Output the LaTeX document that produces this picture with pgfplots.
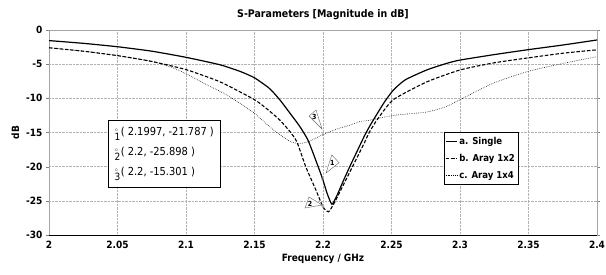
\documentclass[border=0pt]{standalone}
\usepackage{fontspec}
\setmainfont{DejaVu Sans Condensed}
\usepackage{pgfplots}
\pgfplotsset{compat=1.18}
\begin{document}
\begin{tikzpicture}
\useasboundingbox (-49pt,-40pt) rectangle (557pt,235pt);
\begin{axis}[
  at={(0,0)}, anchor=south west,
  width=548pt, height=205pt, scale only axis,
  xmin=2, xmax=2.4, ymin=-30, ymax=0,
  xtick={2,2.05,2.1,2.15,2.2,2.25,2.3,2.35,2.4},
  xticklabels={2,2.05,2.1,2.15,2.2,2.25,2.3,2.35,2.4},
  ytick={-30,-25,-20,-15,-10,-5,0},
  yticklabels={-30,-25,-20,-15,-10,-5,0},
  /pgf/number format/assume math mode=true,
  tick label style={font=\bfseries\fontsize{10}{12}\selectfont},
  x tick style={draw=none},
  y tick style={gray},
  tick align=outside, major tick length=3pt,
  grid=major,
  major grid style={densely dotted, gray!60},
  axis line style={gray!70},
  title={S-Parameters [Magnitude in dB]},
  title style={font=\bfseries\fontsize{10.5}{12}\selectfont, yshift=1pt},
  xlabel={Frequency / GHz},
  ylabel={dB},
  label style={font=\bfseries\fontsize{10}{12}\selectfont},
  xlabel style={yshift=2pt},
  legend style={at={(0.856,0.502)}, anchor=north east, draw=black,
    font=\bfseries\fontsize{9.5}{11}\selectfont, row sep=4.5pt,
    inner xsep=1pt, inner ysep=2.5pt},
  legend cell align=left,
  legend image code/.code={\draw[#1] (0pt,0pt) -- (11pt,0pt);},
  after end axis/.code={\draw[black, line width=0.9pt] (rel axis cs:0,0) -- (rel axis cs:1,0);},
]
\addplot[black, line width=1.2pt, smooth, tension=0.35] coordinates {
(2.000,-1.55) (2.025,-1.95) (2.050,-2.45) (2.075,-3.1) (2.100,-4.0)
(2.125,-5.1) (2.140,-6.1) (2.150,-7.0) (2.160,-8.4) (2.165,-9.4) (2.170,-10.6) (2.176,-12.2)
(2.183,-14.1) (2.189,-16.1) (2.195,-19.2) (2.1997,-21.787) (2.203,-23.9)
(2.2065,-25.5) (2.210,-24.3) (2.215,-22.0) (2.220,-19.8) (2.225,-17.7)
(2.230,-15.6) (2.234,-14.1) (2.240,-12.1) (2.245,-10.5) (2.2513,-8.8)
(2.260,-7.3) (2.2757,-5.85) (2.290,-4.9) (2.300,-4.4) (2.325,-3.6)
(2.349,-2.9) (2.375,-2.2) (2.400,-1.46)
};
\addlegendentry{a. Single}
\addplot[black, line width=1.1pt, dash pattern=on 3.5pt off 1.8pt, smooth, tension=0.35] coordinates {
(2.000,-2.6) (2.025,-3.1) (2.050,-3.75) (2.075,-4.6) (2.100,-5.8)
(2.125,-7.6) (2.150,-10.2) (2.160,-11.7) (2.1686,-13.2) (2.176,-14.9)
(2.181,-16.4) (2.1874,-20.0) (2.195,-23.5) (2.200,-25.898) (2.204,-26.6)
(2.208,-25.4) (2.215,-22.6) (2.220,-20.6) (2.225,-18.6) (2.230,-16.6)
(2.234,-14.9) (2.240,-13.0) (2.2513,-10.2) (2.2757,-7.6) (2.300,-5.85)
(2.325,-4.8) (2.349,-4.1) (2.375,-3.4) (2.400,-2.9)
};
\addlegendentry{b. Aray 1x2}
\addplot[black, line width=0.6pt, dash pattern=on 0.6pt off 1.2pt, smooth, tension=0.4] coordinates {
(2.000,-2.6) (2.025,-3.1) (2.050,-3.75) (2.075,-4.6) (2.090,-5.5)
(2.100,-6.4) (2.115,-8.0) (2.127,-9.2) (2.140,-10.8) (2.150,-12.2)
(2.1637,-14.6) (2.176,-16.3) (2.183,-16.6) (2.190,-16.3) (2.195,-15.8)
(2.200,-15.301) (2.210,-14.5) (2.220,-13.9) (2.227,-13.4) (2.234,-13.2)
(2.2513,-12.5) (2.2757,-12.0) (2.290,-11.2) (2.300,-10.2) (2.324,-7.8)
(2.349,-6.1) (2.375,-4.9) (2.400,-3.9)
};
\addlegendentry{c. Aray 1x4}
\addplot[only marks, mark=o, mark size=1.2pt, gray!80, forget plot] coordinates {
(2.1997,-21.787) (2.2,-25.898) (2.2,-15.301)
};
% marker flags
\draw[gray!80!black, fill=white, line width=0.4pt] (axis cs:2.1898,-12.59) -- (axis cs:2.1949,-11.71) -- (axis cs:2.1993,-14.49) -- cycle;
\node[font=\bfseries\fontsize{7}{8}\selectfont, inner sep=0pt] at (axis cs:2.1936,-12.75) {3};
\draw[gray!80!black, fill=white, line width=0.4pt] (axis cs:2.2022,-20.93) -- (axis cs:2.2064,-18.29) -- (axis cs:2.2117,-19.42) -- cycle;
\node[font=\bfseries\fontsize{7}{8}\selectfont, inner sep=0pt] at (axis cs:2.2068,-19.4) {1};
\draw[gray!80!black, fill=white, line width=0.4pt] (axis cs:2.1869,-26.05) -- (axis cs:2.1898,-24.44) -- (axis cs:2.1993,-25.61) -- cycle;
\node[font=\bfseries\fontsize{7}{8}\selectfont, inner sep=0pt] at (axis cs:2.1905,-25.4) {2};
% marker value box
\node[draw=black, fill=white, anchor=north west, inner xsep=2pt, inner ysep=2pt,
  font=\fontsize{11}{20}\selectfont, align=left, minimum width=112pt, minimum height=67pt]
  at (rel axis cs:0.1077,0.561) {%
  $^{\scriptscriptstyle\circ}_{\mbox{\fontsize{10}{10}\selectfont 1}}$( 2.1997, -21.787 )\\
  $^{\scriptscriptstyle\circ}_{\mbox{\fontsize{10}{10}\selectfont 2}}$( 2.2, -25.898 )\\
  $^{\scriptscriptstyle\circ}_{\mbox{\fontsize{10}{10}\selectfont 3}}$( 2.2, -15.301 )};
\end{axis}
\end{tikzpicture}
\end{document}
